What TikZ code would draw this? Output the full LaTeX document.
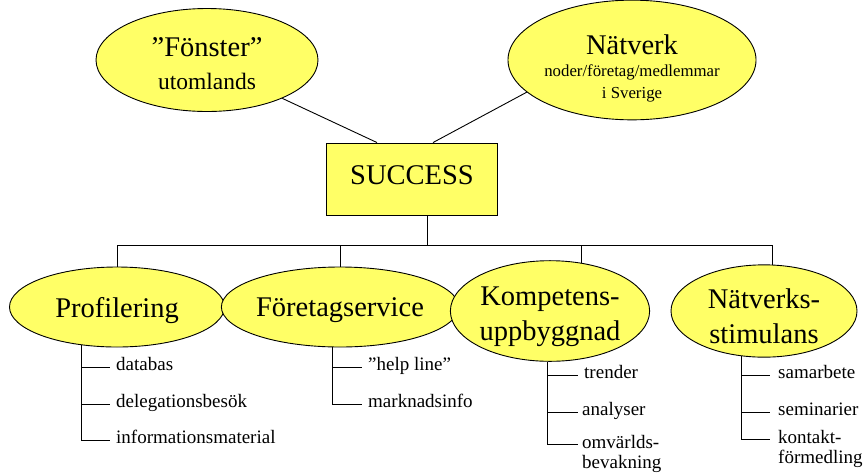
\documentclass[tikz,border=0pt]{standalone}
\usepackage{fontspec}
\setmainfont{Liberation Serif}
\usetikzlibrary{shapes.geometric, positioning, calc}
\definecolor{boxyellow}{RGB}{255,255,102}

\begin{document}
\begin{tikzpicture}[x=1pt, y=-1pt,
  bubble/.style={ellipse, draw, fill=boxyellow, line width=0.9pt, inner sep=0pt, align=center, font=\fontsize{28.5}{30}\selectfont},
  mainbox/.style={rectangle, draw, fill=boxyellow, line width=0.9pt, inner sep=0pt, font=\fontsize{28.5}{30}\selectfont},
  leaf/.style={anchor=base west, inner xsep=6pt, inner ysep=0pt, align=left, font=\fontsize{19}{20}\selectfont},
  conn/.style={line width=0.9pt}]
\useasboundingbox (0,0) rectangle (866,472);

% Top ellipses
\node[bubble, minimum width=222pt, minimum height=103pt] (fonster) at (207,60)
  {\rule{0pt}{27pt}”Fönster”\\[3pt]{\fontsize{23.5}{26}\selectfont utomlands}};
\node[bubble, minimum width=237pt, minimum height=103pt, font=\fontsize{28.5}{22}\selectfont] (natverk) at (632,60)
  {\rule{0pt}{37pt}Nätverk\\{\fontsize{16.8}{21}\selectfont noder/företag/medlemmar}\\{\fontsize{16.8}{21}\selectfont i Sverige}};

% Centre box
\node[mainbox, minimum width=171pt, minimum height=72pt, text depth=7pt] (success) at (412,179) {SUCCESS};

\draw[conn] (fonster.-27) -- ([xshift=-35pt]success.north);
\draw[conn] (natverk.-163) -- ([xshift=21pt]success.north);

% Lower ellipses
\node[bubble, minimum width=215pt, minimum height=80pt, text depth=0pt] (prof) at (117,307) {Profilering};
\node[bubble, minimum width=216pt, minimum height=80pt, text depth=0pt] (foretag) at (340,307) {Företagservice};
\node[bubble, minimum width=187pt, minimum height=88pt, font=\fontsize{28.5}{35}\selectfont] (kompetens) at (550,311) {\rule{0pt}{30pt}Kompetens-\\uppbyggnad};
\node[bubble, minimum width=186pt, minimum height=88pt, font=\fontsize{28.5}{35}\selectfont] (stimulans) at (764,311) {\rule{0pt}{30pt}Nätverks-\\stimulans};

% Bus
\coordinate (bus) at (0,245);
\draw[conn] ([xshift=15pt]success.south) -- ([xshift=15pt]success.south |- bus);
\draw[conn] (prof.north) -- (prof.north |- bus) -- (stimulans.80 |- bus) -- (stimulans.80);
\draw[conn] (foretag.north) -- (foretag.north |- bus);
\draw[conn] (kompetens.57) -- (kompetens.57 |- bus);

% Profilering items
\node[leaf] (p1) at (110,370) {databas};
\node[leaf] (p2) at (110,407) {delegationsbesök};
\node[leaf] (p3) at (110,443) {informationsmaterial};
\draw[conn] (prof.-133) |- (p3.mid west);
\foreach \n in {p1,p2}
  \draw[conn] (prof.-133 |- \n.mid west) -- (\n.mid west);

% Foretagservice items
\node[leaf] (f1) at (362,370) {”help line”};
\node[leaf] (f2) at (362,407) {marknadsinfo};
\draw[conn] (foretag.-100) |- (f2.mid west);
\draw[conn] (foretag.-100 |- f1.mid west) -- (f1.mid west);

% Kompetens items
\node[leaf] (k1) at (578,378) {trender};
\node[leaf, inner xsep=4pt] (k2) at (578,415) {analyser};
\node[leaf, inner xsep=4pt, anchor=north west] (k3) at (578,435) {omvärlds-\\bevakning};
\draw[conn] (kompetens.-93) |- ([yshift=-9pt]k3.north west);
\foreach \n in {k1,k2}
  \draw[conn] (kompetens.-93 |- \n.mid west) -- (\n.mid west);

% Natverks items
\node[leaf, inner xsep=8pt] (n1) at (770,378) {samarbete};
\node[leaf, inner xsep=8pt] (n2) at (770,415) {seminarier};
\node[leaf, inner xsep=8pt, anchor=north west] (n3) at (770,430) {kontakt-\\förmedling};
\draw[conn] (stimulans.-116) |- ([yshift=-9pt]n3.north west);
\foreach \n in {n1,n2}
  \draw[conn] (stimulans.-116 |- \n.mid west) -- (\n.mid west);

\end{tikzpicture}
\end{document}
